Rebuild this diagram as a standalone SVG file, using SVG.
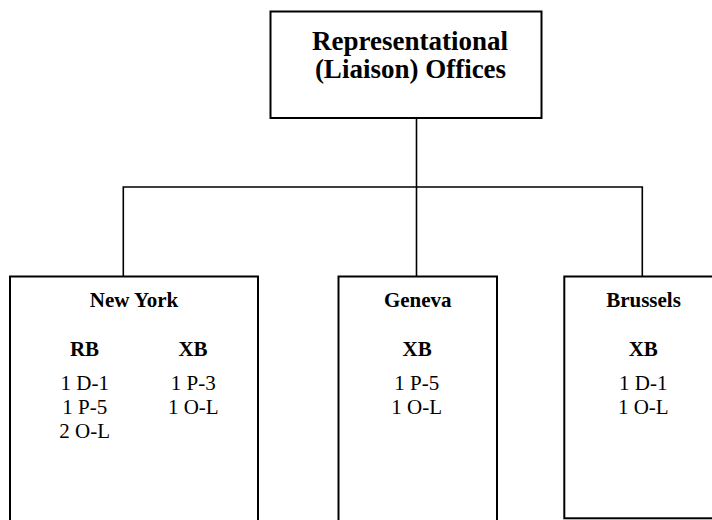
<svg xmlns="http://www.w3.org/2000/svg" width="712" height="520" viewBox="0 0 712 520">
<style>
.box{fill:#fff;stroke:#000;stroke-width:2}
.con{fill:none;stroke:#000;stroke-width:1.6}
text{font-family:"Liberation Serif","Times New Roman",serif;fill:#000;text-anchor:middle}
.title{font-size:27px;font-weight:bold}
.h{font-size:21px;font-weight:bold}
.t{font-size:21px}
</style>
<rect width="712" height="520" fill="#fff"/>
<g id="connectors">
<path class="con" d="M416.5 118 V276.5"/>
<path class="con" d="M123.3 276.5 V187 H642.3 V276.5"/>
</g>
<g id="top">
<rect class="box" x="270.5" y="11.5" width="271" height="106.5"/>
<text class="title" x="410" y="49.5">Representational</text>
<text class="title" x="410.5" y="78">(Liaison) Offices</text>
</g>
<g id="newyork">
<rect class="box" x="10" y="276.5" width="248" height="260"/>
<text class="h" x="134" y="307">New York</text>
<text class="h" x="84.5" y="356">RB</text>
<text class="h" x="193" y="356">XB</text>
<text class="t" x="84.7" y="390">1 D-1</text>
<text class="t" x="84.7" y="414">1 P-5</text>
<text class="t" x="84.7" y="438">2 O-L</text>
<text class="t" x="193.3" y="390">1 P-3</text>
<text class="t" x="193.3" y="414">1 O-L</text>
</g>
<g id="geneva">
<rect class="box" x="338.5" y="276.5" width="158.5" height="260"/>
<text class="h" x="417.8" y="307">Geneva</text>
<text class="h" x="417.2" y="356">XB</text>
<text class="t" x="416.7" y="390">1 P-5</text>
<text class="t" x="416.7" y="414">1 O-L</text>
</g>
<g id="brussels">
<rect class="box" x="564.3" y="276.5" width="180" height="241.8"/>
<text class="h" x="643.5" y="307">Brussels</text>
<text class="h" x="643.3" y="356">XB</text>
<text class="t" x="643.3" y="390">1 D-1</text>
<text class="t" x="643.3" y="414">1 O-L</text>
</g>
</svg>
